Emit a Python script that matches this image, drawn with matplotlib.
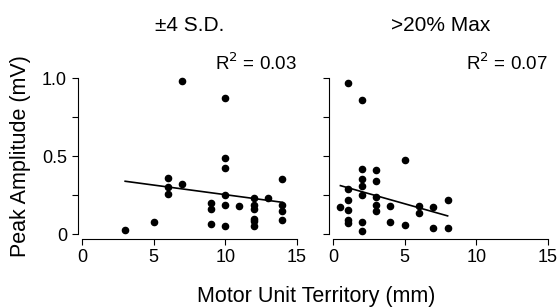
import matplotlib.pyplot as plt

plt.rcParams['font.family'] = ['Liberation Sans', 'DejaVu Sans']

# left panel: +-4 S.D.
sd_x = [3, 5, 6, 6, 6, 7, 7, 9, 9, 9, 10, 10, 10, 10, 10, 10, 11,
        12, 12, 12, 12, 12, 12, 13, 14, 14, 14, 14]
sd_y = [0.03, 0.08, 0.36, 0.30, 0.26, 0.98, 0.32, 0.20, 0.165, 0.068,
        0.874, 0.49, 0.423, 0.25, 0.19, 0.05, 0.18,
        0.23, 0.186, 0.16, 0.10, 0.083, 0.05, 0.23, 0.355, 0.19, 0.15, 0.09]
sd_fit_x = [3, 14]
sd_fit_y = [0.34, 0.205]

# right panel: >20% Max
mx_x = [1, 2, 5, 2, 3, 2, 3, 2, 1, 2, 3, 1, 8, 0.5, 3, 4, 6, 7, 1, 3, 6,
        1, 1, 2, 4, 5, 7, 8, 2]
mx_y = [0.972, 0.863, 0.476, 0.417, 0.412, 0.353, 0.344, 0.31, 0.29, 0.252,
        0.24, 0.218, 0.22, 0.173, 0.19, 0.18, 0.18, 0.173, 0.154, 0.147,
        0.139, 0.09, 0.073, 0.077, 0.081, 0.06, 0.038, 0.038, 0.021]
mx_fit_x = [0.5, 8]
mx_fit_y = [0.312, 0.118]

titles = ["\u00b14 S.D.", ">20% Max"]
r2_labels = ["0.03", "0.07"]

fig = plt.figure(figsize=(5.59, 3.08), dpi=100)
ax1 = fig.add_axes([0.1472, 0.2393, 0.3835, 0.5065])
ax2 = fig.add_axes([0.5962, 0.2393, 0.3835, 0.5065])

panels = [(ax1, sd_x, sd_y, sd_fit_x, sd_fit_y),
          (ax2, mx_x, mx_y, mx_fit_x, mx_fit_y)]

for i, (ax, x, y, fx, fy) in enumerate(panels):
    ax.scatter(x, y, s=20, color="black", clip_on=False, zorder=3)
    ax.plot(fx, fy, color="black", linewidth=1.2)
    ax.set_xlim(0, 15)
    ax.set_ylim(0, 1.0)
    ax.set_xticks([0, 5, 10, 15])
    ax.set_yticks([0, 0.25, 0.5, 0.75, 1.0])
    if i == 0:
        ax.set_yticklabels(["0", "", "0.5", "", "1.0"])
    else:
        ax.set_yticklabels([])
    for s in ["top", "right"]:
        ax.spines[s].set_visible(False)
    ax.spines["left"].set_position(("outward", 3))
    ax.spines["bottom"].set_position(("outward", 3.5))
    ax.spines["left"].set_linewidth(0.8)
    ax.spines["bottom"].set_linewidth(0.8)
    ax.tick_params(labelsize=13, length=4, width=0.8)
    ax.tick_params(axis="x", pad=3)
    ax.tick_params(axis="y", pad=4)
    ax.set_title(titles[i], fontsize=15, pad=34)
    ax.text(1.0, 1.03, "R$^2$ = " + r2_labels[i], transform=ax.transAxes,
            ha="right", va="bottom", fontsize=13.5)

fig.text(0.036, 0.493, "Peak Amplitude (mV)", rotation=90, ha="center",
         va="center", fontsize=15.5)
fig.text(0.565, 0.036, "Motor Unit Territory (mm)", ha="center", va="center",
         fontsize=15.5)

plt.savefig("out.png", dpi=100)
